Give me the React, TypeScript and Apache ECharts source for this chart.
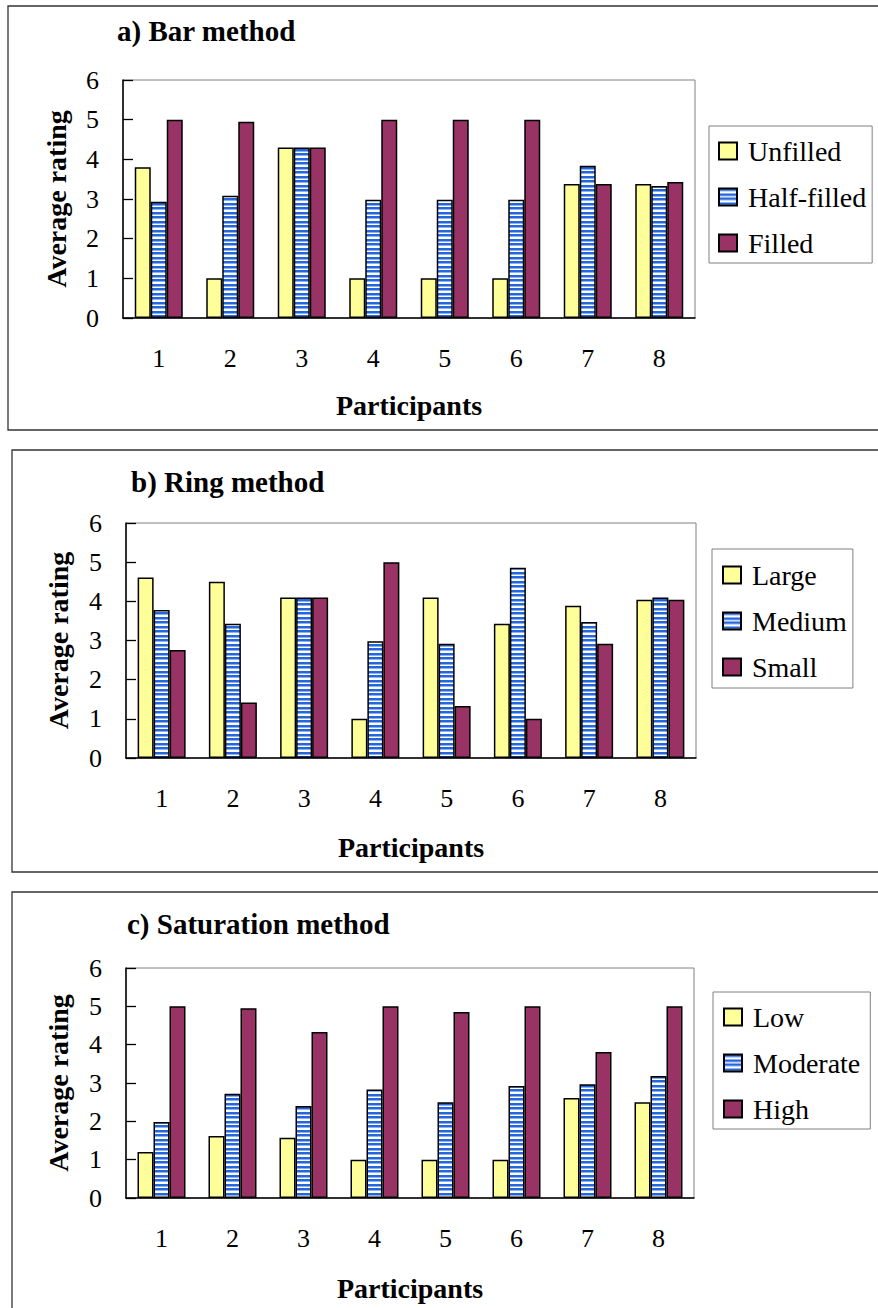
import React, { useEffect, useRef } from "react";
import * as echarts from "echarts";

const participants = ["1", "2", "3", "4", "5", "6", "7", "8"];
const yTicks = [0, 6, 1];

// a) Bar method
const barTitle = "a) Bar method";
const barNames = ["Unfilled", "Half-filled", "Filled"];
const barUnfilled = [3.8, 1.0, 4.3, 1.0, 1.0, 1.0, 3.38, 3.38];
const barHalfFilled = [2.93, 3.08, 4.3, 2.98, 2.98, 2.98, 3.84, 3.33];
const barFilled = [5.0, 4.95, 4.3, 5.0, 5.0, 5.0, 3.38, 3.43];

// b) Ring method
const ringTitle = "b) Ring method";
const ringNames = ["Large", "Medium", "Small"];
const ringLarge = [4.61, 4.5, 4.1, 1.0, 4.1, 3.43, 3.89, 4.04];
const ringMedium = [3.78, 3.43, 4.1, 2.98, 2.92, 4.86, 3.47, 4.1];
const ringSmall = [2.76, 1.42, 4.1, 5.0, 1.33, 1.0, 2.92, 4.04];

// c) Saturation method
const satTitle = "c) Saturation method";
const satNames = ["Low", "Moderate", "High"];
const satLow = [1.2, 1.62, 1.57, 1.0, 1.0, 1.0, 2.61, 2.5];
const satModerate = [1.98, 2.72, 2.4, 2.83, 2.5, 2.92, 2.97, 3.18];
const satHigh = [5.0, 4.95, 4.33, 5.0, 4.85, 5.0, 3.81, 5.0];

const xAxisName = "Participants";
const yAxisName = "Average rating";

const FONT = "'Liberation Serif', 'Times New Roman', Times, serif";

function makeStripePattern() {
  const c = document.createElement("canvas");
  c.width = 4;
  c.height = 9;
  const ctx = c.getContext("2d")!;
  const B = "#2466dc";
  const L = "#8fb0ee";
  const W = "#ffffff";
  const rows = [B, B, L, W, W, B, B, L, W];
  rows.forEach((col, i) => {
    ctx.fillStyle = col;
    ctx.fillRect(0, i, 4, 1);
  });
  return { image: c, repeat: "repeat", imageWidth: 4, imageHeight: 9 } as any;
}

export default function App() {
  const ref = useRef<HTMLDivElement>(null);

  useEffect(() => {
    if (!ref.current) return;
    const chart = echarts.init(ref.current, undefined, { renderer: "svg" });
    const stripe = makeStripePattern();
    const colors = ["#FFFF99", stripe, "#993366"];

    const panels = [
      {
        title: barTitle,
        names: barNames,
        values: [barUnfilled, barHalfFilled, barFilled],
        grid: { left: 123, top: 80, width: 572, height: 238 },
        titlePos: { left: 117, top: 16 },
        legend: { left: 709, top: 126, padding: [11, 6, 6, 9], itemGap: 18 },
        box: { x: 8, y: 6, width: 880, height: 424 },
        xNameGap: 73,
        yNameGap: 53,
      },
      {
        title: ringTitle,
        names: ringNames,
        values: [ringLarge, ringMedium, ringSmall],
        grid: { left: 126, top: 523, width: 570, height: 235 },
        titlePos: { left: 131, top: 467 },
        legend: { left: 712, top: 549, padding: [12, 6, 7, 10], itemGap: 18 },
        box: { x: 12, y: 450, width: 880, height: 422 },
        xNameGap: 75,
        yNameGap: 54,
      },
      {
        title: satTitle,
        names: satNames,
        values: [satLow, satModerate, satHigh],
        grid: { left: 126, top: 968, width: 568, height: 230 },
        titlePos: { left: 127, top: 909 },
        legend: { left: 713, top: 992, padding: [11, 10, 6, 10], itemGap: 18 },
        box: { x: 12, y: 892, width: 880, height: 500 },
        xNameGap: 76,
        yNameGap: 54,
      },
    ];

    const option: any = {
      animation: false,
      backgroundColor: "#ffffff",
      title: panels.map((p) => ({
        text: p.title,
        left: p.titlePos.left,
        top: p.titlePos.top,
        padding: 0,
        textStyle: { fontSize: 29, fontWeight: "bold", fontFamily: FONT, color: "#000" },
      })),
      graphic: panels.map((p) => ({
        type: "rect",
        shape: { x: p.box.x, y: p.box.y, width: p.box.width, height: p.box.height },
        style: { fill: "none", stroke: "#333333", lineWidth: 1.3 },
        silent: true,
        z: 0,
      })),
      grid: panels.map((p) => ({
        left: p.grid.left,
        top: p.grid.top,
        width: p.grid.width,
        height: p.grid.height,
        show: true,
        borderColor: "#808080",
        borderWidth: 1,
        backgroundColor: "transparent",
      })),
      legend: panels.map((p) => ({
        data: p.names,
        orient: "vertical",
        left: p.legend.left,
        top: p.legend.top,
        padding: p.legend.padding,
        itemGap: p.legend.itemGap,
        itemWidth: 18,
        itemHeight: 17,
        icon: "rect",
        selectedMode: false,
        borderColor: "#808080",
        borderWidth: 1,
        backgroundColor: "#ffffff",
        textStyle: { fontSize: 28, fontFamily: FONT, color: "#000", padding: [0, 0, 0, 6] },
      })),
      xAxis: panels.map((p, i) => ({
        type: "category",
        gridIndex: i,
        data: participants,
        name: xAxisName,
        nameLocation: "middle",
        nameGap: p.xNameGap,
        nameTextStyle: { fontSize: 28, fontWeight: "bold", fontFamily: FONT, color: "#000" },
        axisLine: { show: true, lineStyle: { color: "#000", width: 1.5 } },
        axisTick: { show: false },
        axisLabel: { fontSize: 26, fontFamily: FONT, color: "#000", margin: 27 },
        splitLine: { show: false },
      })),
      yAxis: panels.map((p, i) => ({
        type: "value",
        gridIndex: i,
        min: yTicks[0],
        max: yTicks[1],
        interval: yTicks[2],
        name: yAxisName,
        nameLocation: "middle",
        nameGap: p.yNameGap,
        nameTextStyle: { fontSize: 28, fontWeight: "bold", fontFamily: FONT, color: "#000" },
        axisLine: { show: true, lineStyle: { color: "#000", width: 1.5 } },
        axisTick: { show: true, inside: true, length: 10, lineStyle: { color: "#000", width: 1.3 } },
        axisLabel: { fontSize: 26, fontFamily: FONT, color: "#000", margin: 24 },
        splitLine: { show: false },
      })),
      series: panels.flatMap((p, i) =>
        p.names.map((name, k) => ({
          type: "bar",
          name,
          xAxisIndex: i,
          yAxisIndex: i,
          data: p.values[k],
          barWidth: 16,
          barGap: "0%",
          itemStyle: { color: colors[k], borderColor: "#000", borderWidth: 1.5 },
          emphasis: { disabled: true },
        }))
      ),
    };

    chart.setOption(option);
    return () => chart.dispose();
  }, []);

  return (
    <div
      ref={ref}
      style={{ position: "absolute", left: 0, top: 0, width: 878, height: 1308 }}
    />
  );
}
